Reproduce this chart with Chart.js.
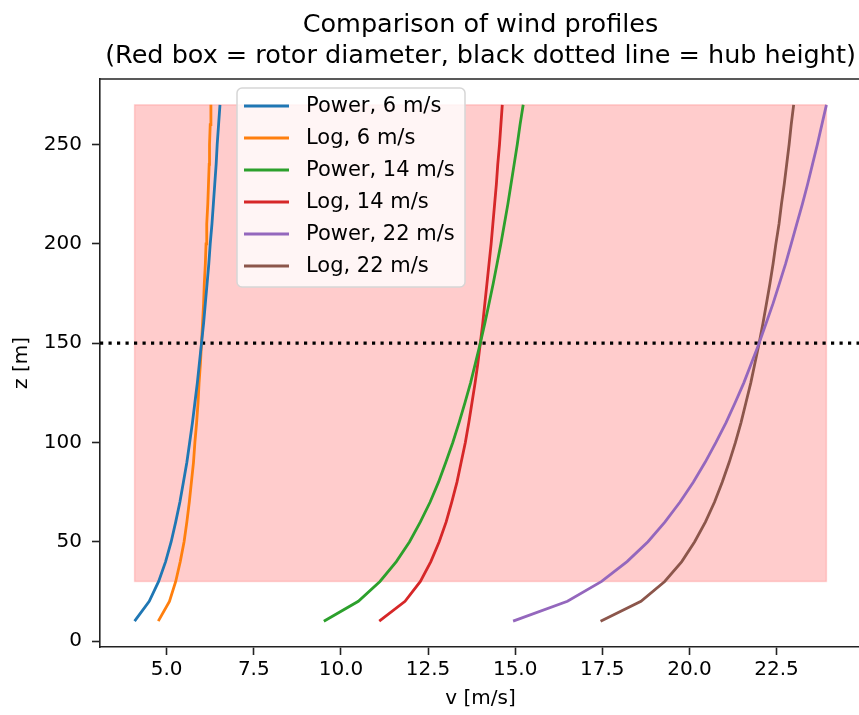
<!DOCTYPE html>
<html>
<head>
<meta charset="utf-8">
<title>Comparison of wind profiles</title>
<script src="https://cdn.jsdelivr.net/npm/chart.js@4.4.1/dist/chart.umd.min.js"></script>
<style>
  html, body { margin: 0; padding: 0; background: #fff; overflow: hidden; }
  canvas { display: block; }
</style>
</head>
<body>
<canvas id="profileChart" width="870" height="715"></canvas>
<script>
// heights above ground [m]
const heights = [10, 20, 30, 40, 50, 60, 70, 80, 90, 100, 110, 120, 130, 140, 150,
  160, 170, 180, 190, 200, 210, 220, 230, 240, 250, 260, 270];

// wind speed [m/s] at each height
const powerSix = [4.08, 4.50, 4.77, 4.97, 5.13, 5.26, 5.38, 5.48, 5.58, 5.66, 5.74, 5.81, 5.88, 5.94, 6.00,
  6.06, 6.11, 6.16, 6.21, 6.25, 6.30, 6.34, 6.38, 6.42, 6.45, 6.49, 6.53];
const logSix = [4.76, 5.08, 5.26, 5.39, 5.50, 5.58, 5.65, 5.71, 5.77, 5.81, 5.86, 5.90, 5.93, 5.97, 6.00,
  6.03, 6.06, 6.08, 6.11, 6.13, 6.15, 6.18, 6.20, 6.22, 6.23, 6.25, 6.27];
const powerFourteen = [9.51, 10.50, 11.12, 11.59, 11.97, 12.28, 12.56, 12.80, 13.01, 13.21, 13.39, 13.56, 13.72, 13.86, 14.00,
  14.13, 14.25, 14.37, 14.48, 14.59, 14.69, 14.79, 14.88, 14.97, 15.06, 15.14, 15.23];
const logFourteen = [11.10, 11.84, 12.28, 12.58, 12.82, 13.02, 13.18, 13.33, 13.45, 13.57, 13.67, 13.76, 13.85, 13.93, 14.00,
  14.07, 14.13, 14.19, 14.25, 14.31, 14.36, 14.41, 14.46, 14.50, 14.55, 14.59, 14.63];
const powerTwentyTwo = [14.94, 16.50, 17.48, 18.21, 18.81, 19.30, 19.73, 20.11, 20.45, 20.76, 21.05, 21.31, 21.56, 21.78, 22.00,
  22.20, 22.40, 22.58, 22.76, 22.92, 23.08, 23.24, 23.39, 23.53, 23.67, 23.80, 23.93];
const logTwentyTwo = [17.45, 18.61, 19.29, 19.78, 20.15, 20.46, 20.72, 20.94, 21.14, 21.32, 21.48, 21.62, 21.76, 21.88, 22.00,
  22.11, 22.21, 22.31, 22.40, 22.48, 22.57, 22.64, 22.72, 22.79, 22.86, 22.92, 22.99];

const seriesLabels = ['Power, 6 m/s', 'Log, 6 m/s', 'Power, 14 m/s', 'Log, 14 m/s', 'Power, 22 m/s', 'Log, 22 m/s'];

const xTicks = [5.0, 7.5, 10.0, 12.5, 15.0, 17.5, 20.0, 22.5];
const yTicks = [0, 50, 100, 150, 200, 250];

const hubHeight = 150;
const rotorDiameter = 240;

const FONT = 'DejaVu Sans';
const colors = ['#1f77b4', '#ff7f0e', '#2ca02c', '#d62728', '#9467bd', '#8c564b'];

const allSeries = [powerSix, logSix, powerFourteen, logFourteen, powerTwentyTwo, logTwentyTwo];
const allSpeeds = allSeries.flat();
const vMin = Math.min(...allSpeeds);
const vMax = Math.max(...allSpeeds);

// matplotlib style 5% margins around the data
const xPad = (vMax - vMin) * 0.05;
const zPad = (heights[heights.length - 1] - heights[0]) * 0.05;

const datasets = allSeries.map((values, i) => ({
  label: seriesLabels[i],
  data: values.map((v, j) => ({ x: v, y: heights[j] })),
  showLine: true,
  borderColor: colors[i],
  backgroundColor: colors[i],
  borderWidth: 2.8,
  pointRadius: 0,
  tension: 0,
}));

// red rotor box and dotted hub height line, under the profiles
const rotorPlugin = {
  id: 'rotorPlugin',
  beforeDatasetsDraw(chart) {
    const { ctx, chartArea, scales: { x, y } } = chart;
    const left = x.getPixelForValue(vMin);
    const right = x.getPixelForValue(vMax);
    const top = y.getPixelForValue(hubHeight + rotorDiameter / 2);
    const bottom = y.getPixelForValue(hubHeight - rotorDiameter / 2);
    ctx.save();
    ctx.fillStyle = 'rgba(255, 0, 0, 0.2)';
    ctx.fillRect(left, top, right - left, bottom - top);
    ctx.strokeStyle = 'rgba(255, 0, 0, 0.15)';
    ctx.lineWidth = 1.5;
    ctx.strokeRect(left, top, right - left, bottom - top);

    const hubY = y.getPixelForValue(hubHeight);
    ctx.strokeStyle = '#000';
    ctx.lineWidth = 3.2;
    ctx.setLineDash([3.2, 5.3]);
    ctx.beginPath();
    ctx.moveTo(chartArea.left, hubY);
    ctx.lineTo(chartArea.right, hubY);
    ctx.stroke();
    ctx.restore();
  },
  afterDraw(chart) {
    const { ctx, chartArea } = chart;
    ctx.save();
    // top spine
    ctx.strokeStyle = '#222';
    ctx.lineWidth = 1.6;
    ctx.beginPath();
    ctx.moveTo(chartArea.left, chartArea.top);
    ctx.lineTo(chartArea.right, chartArea.top);
    ctx.stroke();
    ctx.restore();
  }
};

// two line title centred over the axes
const titlePlugin = {
  id: 'titlePlugin',
  afterDraw(chart) {
    const { ctx, chartArea } = chart;
    const cx = (chartArea.left + chartArea.right) / 2;
    ctx.save();
    ctx.fillStyle = '#000';
    ctx.font = '25.5px "' + FONT + '"';
    ctx.textAlign = 'center';
    ctx.textBaseline = 'alphabetic';
    ctx.fillText('Comparison of wind profiles', cx, 32);
    ctx.fillText('(Red box = rotor diameter, black dotted line = hub height)', cx, 63);
    ctx.restore();
  }
};

// framed legend box inside the axes
const legendPlugin = {
  id: 'legendPlugin',
  afterDraw(chart) {
    const { ctx } = chart;
    const box = { x: 237, y: 88, w: 228, h: 199 };
    ctx.save();
    ctx.beginPath();
    ctx.roundRect(box.x, box.y, box.w, box.h, 5);
    ctx.fillStyle = 'rgba(255, 255, 255, 0.8)';
    ctx.fill();
    ctx.strokeStyle = '#d6d6d6';
    ctx.lineWidth = 1.5;
    ctx.stroke();

    ctx.font = '21px "' + FONT + '"';
    ctx.textBaseline = 'middle';
    ctx.textAlign = 'left';
    chart.data.datasets.forEach((ds, i) => {
      const rowY = 106 + i * 32;
      ctx.strokeStyle = ds.borderColor;
      ctx.lineWidth = 2.8;
      ctx.beginPath();
      ctx.moveTo(244, rowY);
      ctx.lineTo(289, rowY);
      ctx.stroke();
      ctx.fillStyle = '#000';
      ctx.fillText(ds.label, 306, rowY + 1);
    });
    ctx.restore();
  }
};

const tickFont = { family: FONT, size: 20 };

new Chart(document.getElementById('profileChart').getContext('2d'), {
  type: 'scatter',
  data: { datasets: datasets },
  options: {
    responsive: false,
    animation: false,
    layout: { padding: { top: 79, right: 9, bottom: 0, left: 0 } },
    plugins: {
      legend: { display: false },
      tooltip: { enabled: false },
      title: { display: false },
    },
    scales: {
      x: {
        type: 'linear',
        position: 'bottom',
        min: vMin - xPad,
        max: vMax + xPad,
        afterFit(scale) { scale.height = 68; },
        afterBuildTicks(scale) { scale.ticks = xTicks.map(v => ({ value: v })); },
        ticks: {
          font: tickFont,
          color: '#000',
          padding: 3,
          maxRotation: 0,
          autoSkip: false,
          callback: v => Number(v).toFixed(1),
        },
        grid: { drawOnChartArea: false, drawTicks: true, tickLength: 8, tickWidth: 1.6, tickColor: '#222' },
        border: { display: true, color: '#222', width: 1.6 },
        title: {
          display: true,
          text: 'v [m/s]',
          font: { family: FONT, size: 20 },
          color: '#000',
          padding: { top: 0, bottom: 4 },
        },
      },
      y: {
        type: 'linear',
        min: heights[0] - zPad,
        max: heights[heights.length - 1] + zPad,
        afterFit(scale) { scale.width = 100; },
        afterBuildTicks(scale) { scale.ticks = yTicks.map(v => ({ value: v })); },
        ticks: {
          font: tickFont,
          color: '#000',
          padding: 10,
          callback: v => String(v),
        },
        grid: { drawOnChartArea: false, drawTicks: true, tickLength: 8, tickWidth: 1.6, tickColor: '#222' },
        border: { display: true, color: '#222', width: 1.6 },
        title: {
          display: true,
          text: 'z [m]',
          font: { family: FONT, size: 20 },
          color: '#000',
          padding: { top: 10, bottom: 0 },
        },
      },
    },
  },
  plugins: [rotorPlugin, titlePlugin, legendPlugin],
});
</script>
</body>
</html>
